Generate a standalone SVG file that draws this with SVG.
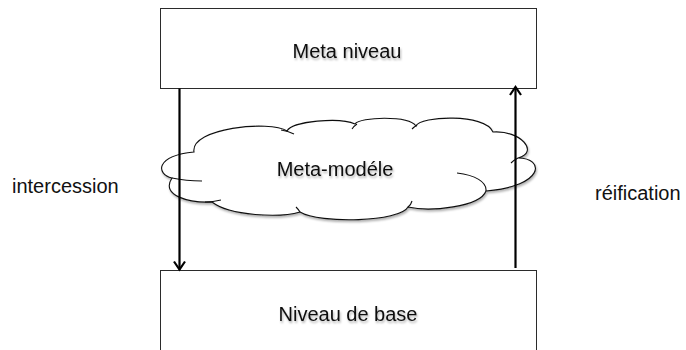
<svg xmlns="http://www.w3.org/2000/svg" width="686" height="350" viewBox="0 0 686 350">
<style>
.box{fill:#ffffff;stroke:#2b2b2b;stroke-width:1}
.cloud{fill:#ffffff;stroke:#111111;stroke-width:1.1}
.tail{fill:none;stroke:#111111;stroke-width:1.1}
.lbl{font-family:"Liberation Sans",Arial,sans-serif;font-size:20px;fill:#111111}
.mid{text-anchor:middle}
.conn{stroke:#000000;stroke-width:2.2;fill:none}
</style>
<defs>
<filter id="sh" x="-10%" y="-10%" width="130%" height="140%">
<feDropShadow dx="1" dy="2" stdDeviation="1.2" flood-color="#000000" flood-opacity="0.3"/>
</filter>
<marker id="arr" viewBox="-10 -7 12 14" refX="0" refY="0" markerWidth="12" markerHeight="14" markerUnits="userSpaceOnUse" orient="auto">
<path d="M-8,-5.5 L0,0 L-8,5.5" fill="none" stroke="#000000" stroke-width="2.2"/>
</marker>
</defs>
<rect width="686" height="350" fill="#ffffff"/>
<g id="meta-niveau">
<rect class="box" x="160.5" y="8.5" width="376" height="80"/>
<text class="lbl mid" x="347" y="58" filter="url(#sh)">Meta niveau</text>
</g>
<g id="niveau-de-base">
<rect class="box" x="160.5" y="270.5" width="376" height="100"/>
<text class="lbl mid" x="348" y="321" filter="url(#sh)">Niveau de base</text>
</g>
<g id="meta-modele">
<g filter="url(#sh)">
<path class="cloud" d="M172,178 C156,174 155,156 194,152 C190,128 270,120 287,131 C292,121 340,117 355,124 C360,117 408,115 416,126 C420,116 485,113 493,132 C520,130 540,152 518,158 C545,158 545,186 486,191 C480,207 430,212 408,207 C400,222 320,224 300,212 C280,218 230,216 212,202 C190,203 160,196 172,178 Z"/>
<path class="tail" d="M281,130 Q288,131 294,134 M352,129 Q354,126 357,124 M412,129 Q414,127 417,125 M172,178 Q186,181 202,181 M205,202 Q213,202 221,200 M296,207 Q299,210 300,212 M412,201 Q411,205 408,207 M457,173 C475,175 487,182 486,191 M518,158 Q514,160 511,163"/>
</g>
<text class="lbl mid" x="335" y="176" filter="url(#sh)">Meta-modéle</text>
</g>
<g id="connectors">
<line class="conn" x1="179.5" y1="88.5" x2="179.5" y2="269.5" marker-end="url(#arr)"/>
<line class="conn" x1="515.5" y1="268" x2="515.5" y2="87" marker-end="url(#arr)"/>
</g>
<g id="labels">
<text class="lbl" x="12" y="193">intercession</text>
<text class="lbl" x="595" y="200">réification</text>
</g>
</svg>
